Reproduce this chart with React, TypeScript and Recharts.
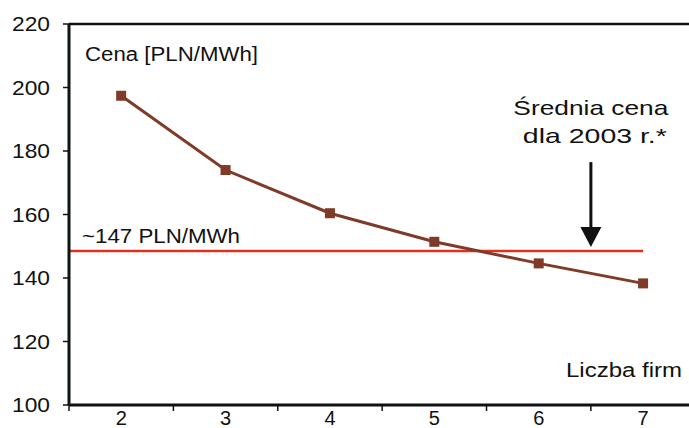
import React from "react";
import {
  Line,
  LineChart,
  ReferenceDot,
  ReferenceLine,
  XAxis,
  YAxis,
} from "recharts";

const firmCounts = [2, 3, 4, 5, 6, 7];
const prices = [197.4, 174.0, 160.4, 151.4, 144.6, 138.3];
const yTicks = [100, 120, 140, 160, 180, 200, 220];
const xTicks = [1.5, 2, 2.5, 3, 3.5, 4, 4.5, 5, 5.5, 6, 6.5, 7];
const averagePrice = 148.5;
const arrowFirms = 6.5;
const arrowTop = 176.5;
const arrowBase = 155.5;
const arrowTip = 149.8;

const data = firmCounts.map((firms, i) => ({ firms, price: prices[i] }));

const FONT = "'Liberation Sans', Arial, sans-serif";
const INK = "#111111";
const BROWN = "#803a28";
const RED = "#e2301e";

function XTick(props: any) {
  const { x, y, payload } = props;
  const v = payload.value as number;
  if (!Number.isInteger(v)) {
    return <line x1={x} x2={x} y1={y} y2={y + 6} stroke={INK} strokeWidth={1.5} />;
  }
  return (
    <text x={x} y={y + 20} textAnchor="middle" fontFamily={FONT} fontSize={20} fill={INK}>
      {v}
    </text>
  );
}

function YTick(props: any) {
  const { x, y, payload } = props;
  return (
    <text
      x={x}
      y={y}
      dy="0.355em"
      textAnchor="end"
      fontFamily={FONT}
      fontSize={21}
      fill={INK}
      textLength={38}
      lengthAdjust="spacingAndGlyphs"
    >
      {payload.value}
    </text>
  );
}

function SquareDot(props: any) {
  const { cx, cy, index } = props;
  return <rect key={`dot-${index}`} x={cx - 5} y={cy - 5} width={10} height={10} fill={BROWN} />;
}

export default function App() {
  return (
    <div style={{ position: "absolute", left: 0, top: 0, background: "#fff" }}>
      <LineChart
        width={689}
        height={428}
        data={data}
        margin={{ top: 24, right: 0, bottom: 0, left: 9 }}
      >
        <XAxis
          dataKey="firms"
          type="number"
          domain={[1.5, 7.44]}
          allowDataOverflow
          ticks={xTicks}
          interval={0}
          tickSize={0}
          tickMargin={0}
          tickLine={false}
          axisLine={{ stroke: INK, strokeWidth: 3 }}
          height={23}
          tick={<XTick />}
          label={(p: any) => {
            const vb = p.viewBox;
            return (
              <text
                x={vb.x + vb.width - 123}
                y={vb.y - 28}
                fontFamily={FONT}
                fontSize={20}
                fill={INK}
                textLength={116}
                lengthAdjust="spacingAndGlyphs"
              >
                Liczba firm
              </text>
            );
          }}
        />
        <YAxis
          type="number"
          domain={[100, 220]}
          ticks={yTicks}
          interval={0}
          width={60}
          tickSize={6}
          tickMargin={13}
          tickLine={{ stroke: INK, strokeWidth: 1.5 }}
          axisLine={{ stroke: "#0c1714", strokeWidth: 3 }}
          tick={<YTick />}
          label={(p: any) => {
            const vb = p.viewBox;
            return (
              <text
                x={vb.x + vb.width + 16}
                y={vb.y + 37}
                fontFamily={FONT}
                fontSize={20}
                fill={INK}
                textLength={173}
                lengthAdjust="spacingAndGlyphs"
              >
                Cena [PLN/MWh]
              </text>
            );
          }}
        />
        <ReferenceLine y={220} stroke={INK} strokeWidth={2.5} />
        <ReferenceLine
          segment={[
            { x: 1.5, y: averagePrice },
            { x: 7, y: averagePrice },
          ]}
          stroke={RED}
          strokeWidth={2.5}
          label={(p: any) => {
            const vb = p.viewBox;
            return (
              <text
                x={vb.x + 13}
                y={vb.y - 8}
                fontFamily={FONT}
                fontSize={20}
                fill={INK}
                textLength={158}
                lengthAdjust="spacingAndGlyphs"
              >
                ~147 PLN/MWh
              </text>
            );
          }}
        />
        <Line
          type="linear"
          dataKey="price"
          stroke={BROWN}
          strokeWidth={3}
          dot={(p: any) => <SquareDot key={`d-${p.index}`} {...p} />}
          activeDot={false}
          isAnimationActive={false}
        />
        <ReferenceLine
          segment={[
            { x: arrowFirms, y: arrowTop },
            { x: arrowFirms, y: arrowBase },
          ]}
          stroke={INK}
          strokeWidth={3}
          label={(p: any) => {
            const vb = p.viewBox;
            return (
              <g fontFamily={FONT} fontSize={21} fill={INK}>
                <text
                  x={vb.x}
                  y={vb.y - 47}
                  textAnchor="middle"
                  textLength={155}
                  lengthAdjust="spacingAndGlyphs"
                >
                  Średnia cena
                </text>
                <text
                  x={vb.x + 4}
                  y={vb.y - 19}
                  textAnchor="middle"
                  textLength={144}
                  lengthAdjust="spacingAndGlyphs"
                >
                  dla 2003 r.*
                </text>
              </g>
            );
          }}
        />
        <ReferenceDot
          x={arrowFirms}
          y={arrowTip}
          shape={(p: any) => (
            <path
              d={`M${p.cx},${p.cy} L${p.cx - 10.5},${p.cy - 20} L${p.cx + 10.5},${p.cy - 20} Z`}
              fill={INK}
            />
          )}
        />
      </LineChart>
    </div>
  );
}
